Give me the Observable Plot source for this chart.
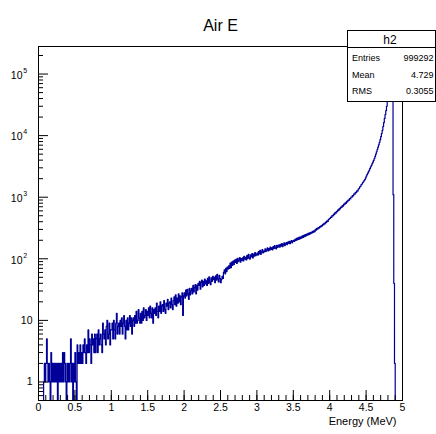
<!DOCTYPE html>
<html>
<head>
<meta charset="utf-8">
<script src="https://cdn.jsdelivr.net/npm/d3@7"></script>
<script src="https://cdn.jsdelivr.net/npm/@observablehq/plot@0.6"></script>
<style>
  html, body { margin: 0; padding: 0; background: #fff; }
  #wrap { position: relative; width: 436px; height: 434px; overflow: hidden; font-family: "Liberation Sans", Arial, sans-serif; }
  #wrap svg { position: absolute; left: 0; top: 0; }
  g[aria-label="title"] text { letter-spacing: 1.5px; }
  g[aria-label="x-labels"] text, g[aria-label="x-title"] text { letter-spacing: 1px; }
  #stats { position: absolute; left: 347px; top: 30px; width: 89px; height: 72px; box-sizing: border-box;
           border: 1px solid #000; background: #fff; color: #000; }
  #stats .head { height: 16px; border-bottom: 1px solid #000; text-align: center; font-size: 12px; line-height: 18px; padding-right: 3px; }
  #stats .rows { padding-top: 2px; }
  #stats .row { display: flex; justify-content: space-between; height: 16.7px; line-height: 16.7px; font-size: 9px; padding-left: 4px; padding-right: 1.5px; }
</style>
</head>
<body>
<div id="wrap"></div>
<script>
// ---- data ----
const title = "Air E";
const xTitle = "Energy (MeV)";
const binStart = 0;
const binWidth = 0.01;
const counts = [
  // 0.00 - 0.49
  0,0,0,0,0,0,0,1,2,1,
  2,5,2,1,2,1,0,3,1,2,
  1,2,1,2,1,2,0,2,1,2,
  1,2,1,3,1,3,2,1,0,2,
  1,2,1,2,5,1,2,0,2,1,
  // 0.50 - 0.99
  3,1,0,4,2,3,2,4,2,3,
  2,4,3,5,3,2,4,3,7,3,
  5,4,2,6,4,5,3,6,3,5,
  6,3,7,4,5,6,4,3,9,6,
  5,7,4,8,10,5,6,9,4,7,
  // 1.00 - 1.49
  7,9,5,10,7,5,9,13,6,8,
  9,6,10,8,11,6,9,12,8,5,
  10,7,11,7,9,12,8,11,6,10,
  11,8,12,9,14,9,10,15,11,9,
  13,9,14,10,16,11,12,15,10,14,
  // 1.50 - 1.99
  12,16,11,17,13,11,16,9,15,13,
  16,12,19,14,11,17,14,20,13,17,
  18,14,21,15,13,19,17,22,15,19,
  20,16,23,18,15,21,24,18,26,17,
  23,19,27,20,25,18,24,28,12,25,
  // 2.00 - 2.49
  28,23,31,25,32,27,22,33,26,30,
  33,27,37,29,34,38,27,37,31,40,
  37,43,32,41,45,35,43,37,47,39,
  44,37,48,40,51,42,38,49,43,52,
  46,50,41,53,45,56,47,42,54,48,
  // 2.50 - 2.99
  41,46,52,48,60,66,57,70,62,73,
  68,77,70,85,72,88,78,92,81,95,
  87,98,84,102,90,96,105,88,101,94,
  104,92,110,99,106,96,113,101,118,104,
  99,116,107,121,103,119,110,126,112,117,
  // 3.00 - 3.49
  124,115,131,120,137,118,128,141,125,133,
  129,145,132,139,150,134,147,138,155,142,
  151,140,158,147,163,150,145,166,153,160,
  168,155,172,161,176,158,170,181,164,175,
  183,170,187,178,192,176,189,198,182,194,
  // 3.50 - 3.99
  200,191,207,198,214,203,219,206,224,212,
  228,217,235,222,241,229,246,235,252,242,
  258,247,265,254,270,262,278,268,285,276,
  300,292,312,304,322,315,334,327,347,340,
  362,354,378,370,395,387,413,405,432,445,
  // 4.00 - 4.49
  452,476,470,505,498,531,522,562,551,590,
  582,623,612,659,648,694,681,730,716,770,
  760,808,797,856,842,901,889,953,938,1008,
  1000,1066,1052,1130,1118,1198,1185,1272,1260,1350,
  1385,1470,1505,1600,1640,1730,1775,1880,1935,2060,
  // 4.50 - 4.99
  2200,2330,2460,2600,2760,2930,3110,3300,3500,3700,
  3950,4250,4600,5000,5450,5950,6500,7100,7800,8600,
  9600,10800,12200,14000,16200,19000,22000,25500,30000,36000,
  45000,60000,78000,95000,110000,120000,128000,1100,40,2,
  0,0,0,0,0,0,0,0,0,0
];
const xDomain = [0, 5];
const yDomain = [0.5, 2.8e5];
const xMajorTicks = [0, 0.5, 1, 1.5, 2, 2.5, 3, 3.5, 4, 4.5, 5];
const xTickLabels = ["0", "0.5", "1", "1.5", "2", "2.5", "3", "3.5", "4", "4.5", "5"];
const yMajorTicks = [1, 10, 100, 1000, 10000, 100000];
const yTickBase = ["1", "10", "10", "10", "10", "10"];
const yTickExp = ["", "", "2", "3", "4", "5"];
const statsName = "h2";
const statsLabels = ["Entries", "Mean", "RMS"];
const statsValues = ["999292", "4.729", "0.3055"];

// ---- layout ----
const W = 436, H = 434;
const mL = 38, mR = 34, mT = 46, mB = 34;
const plotW = W - mL - mR, plotH = H - mT - mB;
const majorLen = 10, minorLen = 5;
const lineColor = "#000099";

const points = counts.map((c, i) => ({x: binStart + i * binWidth, count: c}));
points.push({x: binStart + counts.length * binWidth, count: counts[counts.length - 1]});

const xMinorTicks = d3.range(0, 51).map(i => i / 10);
const yMinorTicks = [];
for (let e = -1; e <= 5; e++) for (let k = 2; k <= 9; k++) {
  const v = k * Math.pow(10, e);
  if (v > yDomain[0] && v < yDomain[1]) yMinorTicks.push(v);
}
const xLabels = xMajorTicks.map((v, i) => ({v, label: xTickLabels[i]}));
const yLabels = yMajorTicks.map((v, i) => ({v, base: yTickBase[i], exp: yTickExp[i]}));

const chart = Plot.plot({
  width: W, height: H,
  marginLeft: mL, marginRight: mR, marginTop: mT, marginBottom: mB,
  x: {domain: xDomain, axis: null},
  y: {type: "log", domain: yDomain, axis: null},
  style: {fontFamily: "'Liberation Sans', Arial, sans-serif", background: "#fff", color: "#000"},
  marks: [
    Plot.line(points, {x: "x", y: d => Math.max(d.count, yDomain[0]), curve: "step-after",
      stroke: lineColor, strokeWidth: 1.2, clip: true}),
    Plot.tickY(yMinorTicks, {y: d => d, stroke: "#000", insetRight: plotW - minorLen}),
    Plot.tickY(yMajorTicks, {y: d => d, stroke: "#000", insetRight: plotW - majorLen}),
    Plot.tickX(xMinorTicks, {x: d => d, stroke: "#000", insetTop: plotH - minorLen}),
    Plot.tickX(xMajorTicks, {x: d => d, stroke: "#000", insetTop: plotH - majorLen}),
    Plot.frame({stroke: "#000"}),
    // y labels
    Plot.text(yLabels.filter(d => !d.exp), {y: "v", text: "base", frameAnchor: "left",
      textAnchor: "end", dx: -6, fontSize: 10.5, fill: "#000"}),
    Plot.text(yLabels.filter(d => d.exp), {y: "v", text: "base", frameAnchor: "left",
      textAnchor: "end", dx: -16, dy: 1.5, fontSize: 10.5, fill: "#000"}),
    Plot.text(yLabels.filter(d => d.exp), {y: "v", text: "exp", frameAnchor: "left",
      textAnchor: "start", dx: -15.3, dy: -3.5, fontSize: 7, fill: "#000"}),
    // x labels
    Plot.text(xLabels, {x: "v", text: "label", frameAnchor: "bottom", dy: 10,
      fontSize: 10.5, fill: "#000", ariaLabel: "x-labels"}),
    Plot.text([xTitle], {text: d => d, frameAnchor: "bottom-right", textAnchor: "end",
      dx: -6, dy: 24.5, fontSize: 11, fill: "#000", ariaLabel: "x-title"}),
    // title
    Plot.text([title], {text: d => d, frameAnchor: "top", dx: 0, dy: -27,
      fontSize: 16, fill: "#000", ariaLabel: "title"})
  ]
});

const wrap = document.getElementById("wrap");
wrap.append(chart);

// stats box
const box = document.createElement("div");
box.id = "stats";
const head = document.createElement("div");
head.className = "head";
head.textContent = statsName;
box.append(head);
const rows = document.createElement("div");
rows.className = "rows";
statsLabels.forEach((lab, i) => {
  const r = document.createElement("div");
  r.className = "row";
  const a = document.createElement("span"); a.textContent = lab;
  const b = document.createElement("span"); b.textContent = statsValues[i];
  r.append(a, b);
  rows.append(r);
});
box.append(rows);
wrap.append(box);
</script>
</body>
</html>
